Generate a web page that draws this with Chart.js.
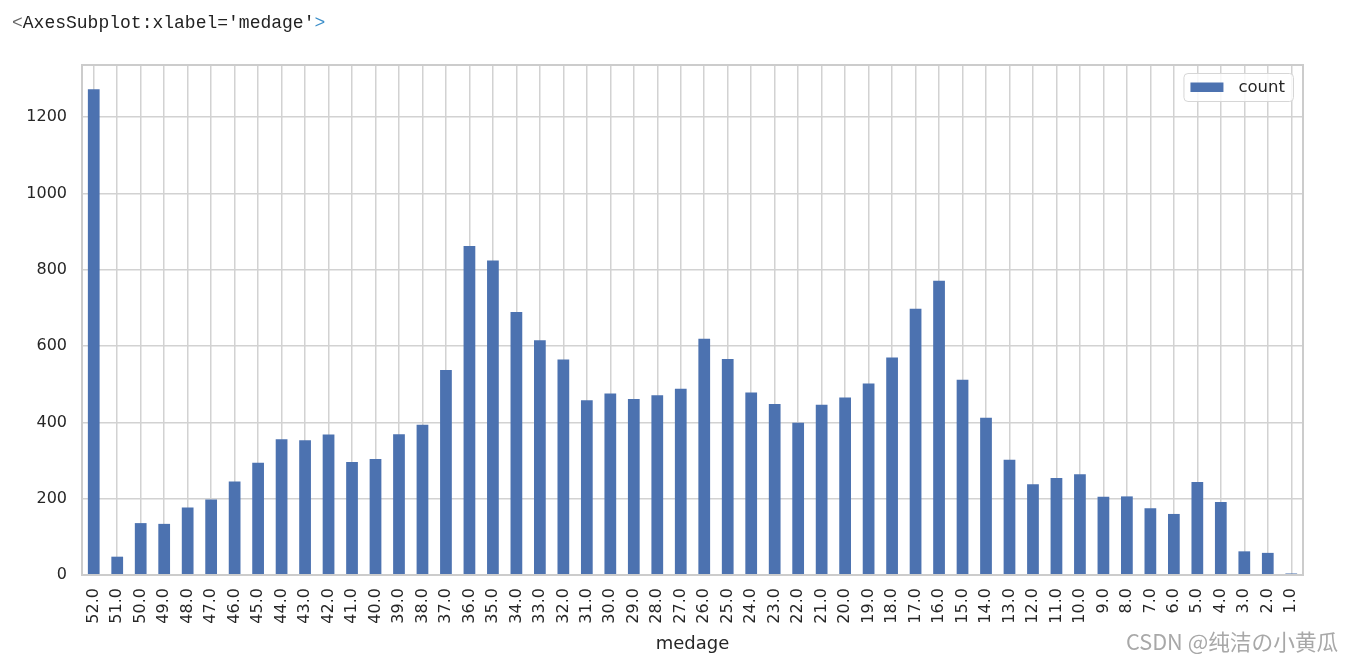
<!DOCTYPE html>
<html>
<head>
<meta charset="utf-8">
<script src="https://cdn.jsdelivr.net/npm/chart.js@4/dist/chart.umd.min.js"></script>
<style>
  html, body { margin: 0; padding: 0; background: #fff; overflow: hidden; }
  #wrap { position: relative; width: 1358px; height: 663px; }
  #hdr { position: absolute; left: 12px; top: 12px; font-family: "Liberation Mono", "DejaVu Sans Mono", monospace; font-size: 18px; line-height: 22px; color: #222; white-space: pre; }
  #hdr .lt { color: #666; }
  #hdr .gt { color: #3b8ec9; }
  #wm { position: absolute; left: 1126px; top: 626px; font-family: "Noto Sans CJK SC", "DejaVu Sans", sans-serif; font-size: 21.7px; line-height: 30px; color: #a8a8a8; white-space: nowrap; }
  canvas { position: absolute; left: 0; top: 0; }
</style>
</head>
<body>
<div id="wrap">
  <canvas id="c" width="1358" height="663"></canvas>
  <div id="hdr"><span class="lt">&lt;</span>AxesSubplot:xlabel='medage'<span class="gt">&gt;</span></div>
  <div id="wm">CSDN @纯洁の小黄瓜</div>
</div>
<script>
const categories = ['52.0','51.0','50.0','49.0','48.0','47.0','46.0','45.0','44.0','43.0','42.0','41.0','40.0','39.0','38.0','37.0','36.0','35.0','34.0','33.0','32.0','31.0','30.0','29.0','28.0','27.0','26.0','25.0','24.0','23.0','22.0','21.0','20.0','19.0','18.0','17.0','16.0','15.0','14.0','13.0','12.0','11.0','10.0','9.0','8.0','7.0','6.0','5.0','4.0','3.0','2.0','1.0'];
const countValues = [1273,48,136,134,177,198,245,294,356,353,368,296,304,369,394,537,862,824,689,615,565,458,476,461,471,488,619,566,478,448,399,446,465,502,570,698,771,512,412,302,238,254,264,205,206,175,160,244,191,62,58,4];
const seriesName = 'count';
const xAxisTitle = 'medage';

const FONT = '"DejaVu Sans", sans-serif';
const BAR = '#4c72b0';
const GRID = '#d2d2d2';
const SPINE = '#cccccc';

const boxPlugin = {
  id: 'boxAndLegend',
  afterDraw(chart) {
    const ctx = chart.ctx;
    const a = chart.chartArea;
    ctx.save();
    ctx.strokeStyle = SPINE;
    ctx.lineWidth = 2;
    ctx.strokeRect(a.left, a.top, a.right - a.left, a.bottom - a.top);
    const label = chart.data.datasets[0].label;
    ctx.font = '16.5px ' + FONT;
    const tw = ctx.measureText(label).width;
    const padL = 7, patchW = 33, gap = 15, padR = 8;
    const w = padL + patchW + gap + tw + padR;
    const h = 28;
    const x = a.right - 10 - w;
    const y = a.top + 8;
    ctx.fillStyle = 'rgba(255,255,255,0.85)';
    ctx.strokeStyle = '#d6d6d6';
    ctx.lineWidth = 1;
    ctx.beginPath();
    ctx.roundRect(x + 0.5, y + 0.5, w, h, 4);
    ctx.fill();
    ctx.stroke();
    ctx.fillStyle = chart.data.datasets[0].backgroundColor;
    ctx.fillRect(x + padL, y + 9.5, patchW, 9.5);
    ctx.fillStyle = '#262626';
    ctx.textBaseline = 'middle';
    ctx.textAlign = 'left';
    ctx.fillText(label, x + padL + patchW + gap, y + h / 2 + 1);
    ctx.restore();
  }
};

new Chart(document.getElementById('c'), {
  type: 'bar',
  data: {
    labels: categories,
    datasets: [{
      label: seriesName,
      data: countValues,
      backgroundColor: BAR,
      borderWidth: 0,
      categoryPercentage: 1.0,
      barPercentage: 0.5
    }]
  },
  options: {
    responsive: false,
    animation: false,
    devicePixelRatio: 1,
    layout: { padding: { top: 65, right: 55, bottom: 0, left: 0 } },
    plugins: {
      legend: { display: false },
      tooltip: { enabled: false },
      title: { display: false }
    },
    scales: {
      x: {
        offset: true,
        grid: { offset: false, color: GRID, lineWidth: 1.5, drawTicks: false },
        border: { color: SPINE, width: 2 },
        ticks: {
          color: '#262626',
          font: { family: FONT, size: 16 },
          minRotation: 90,
          maxRotation: 90,
          autoSkip: false,
          padding: 13
        },
        title: {
          display: true,
          text: xAxisTitle,
          color: '#262626',
          font: { family: FONT, size: 18 },
          padding: { top: 0, bottom: 8 }
        },
        afterFit(s) { s.height = 88; }
      },
      y: {
        min: 0,
        max: 1336.65,
        grid: { color: GRID, lineWidth: 1.5, drawTicks: false },
        border: { color: SPINE, width: 2 },
        ticks: {
          stepSize: 200,
          includeBounds: false,
          color: '#262626',
          font: { family: FONT, size: 16 },
          padding: 15,
          callback: (v) => String(v)
        },
        afterFit(s) { s.width = 82; }
      }
    }
  },
  plugins: [boxPlugin]
});
</script>
</body>
</html>
